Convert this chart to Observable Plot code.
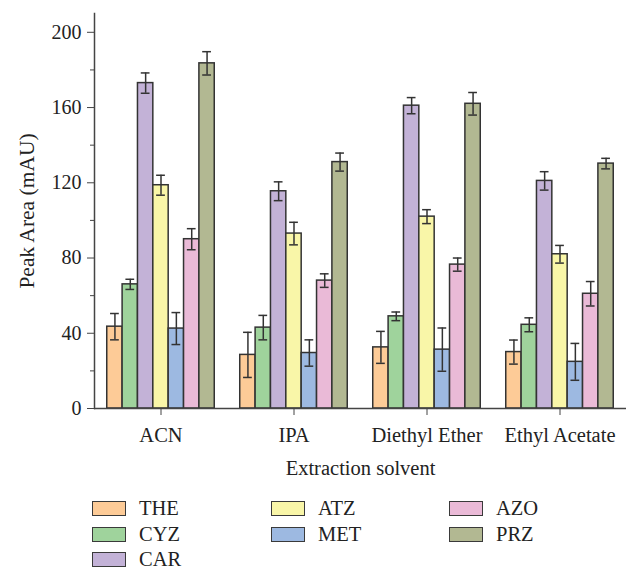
<!DOCTYPE html>
<html><head><meta charset="utf-8">
<script src="https://cdn.jsdelivr.net/npm/d3@7"></script>
<script src="https://cdn.jsdelivr.net/npm/@observablehq/plot@0.6"></script>
<style>
body{margin:0;background:#fff;font-family:"Liberation Serif",serif;}
#legend{position:relative;width:627px;height:81px;}
.sw{position:absolute;width:34px;height:15px;box-sizing:border-box;border:1.5px solid #3a3a3a;}
.lt{position:absolute;font-size:20.5px;line-height:15px;height:15px;color:#222;}
</style></head><body>
<div id="chart"></div><div id="legend"></div>
<script>
const solvents = ["ACN", "IPA", "Diethyl Ether", "Ethyl Acetate"];
const compounds = ["THE", "CYZ", "CAR", "ATZ", "MET", "AZO", "PRZ"];
const colors = ["#FDCB97", "#9FD39C", "#C3B2D7", "#F9F6A8", "#9DB9E1", "#EABAD7", "#B2B892"];
const majorTicks = [0, 40, 80, 120, 160, 200];
const minorTicks = [20, 60, 100, 140, 180];
const yTitle = "Peak Area (mAU)";
const xTitle = "Extraction solvent";

// values per compound, in solvent order
const THE = [43.5, 28.5, 32.5, 30.0];
const CYZ = [66.0, 43.0, 49.0, 44.5];
const CAR = [173.0, 115.5, 161.0, 121.0];
const ATZ = [118.7, 93.0, 102.0, 82.0];
const MET = [42.5, 29.5, 31.3, 24.8];
const AZO = [90.0, 68.0, 76.5, 61.0];
const PRZ = [183.5, 131.0, 162.0, 130.2];
// error (± half-length)
const THE_err = [7.0, 12.0, 8.5, 6.4];
const CYZ_err = [2.7, 6.5, 2.3, 3.7];
const CAR_err = [5.4, 5.0, 4.3, 4.9];
const ATZ_err = [5.3, 6.0, 3.7, 4.7];
const MET_err = [8.5, 7.0, 11.5, 9.8];
const AZO_err = [5.6, 3.6, 3.5, 6.5];
const PRZ_err = [6.2, 4.8, 6.0, 2.8];

const series = [THE, CYZ, CAR, ATZ, MET, AZO, PRZ];
const errs = [THE_err, CYZ_err, CAR_err, ATZ_err, MET_err, AZO_err, PRZ_err];
const data = compounds.flatMap((c, i) => solvents.map((s, j) => ({
  solvent: s, compound: c, value: series[i][j], err: errs[i][j]
})));

const ink = "#333";
const chart = Plot.plot({
  width: 627, height: 490,
  marginLeft: 92, marginRight: 0, marginTop: 13, marginBottom: 82,
  style: {fontFamily: "Liberation Serif, serif", fontSize: "20px", color: "#222", background: "#fff"},
  fx: {domain: solvents, padding: 0},
  x: {domain: compounds, paddingInner: 0, paddingOuter: 0.83, round: false, axis: null},
  y: {domain: [0, 210]},
  color: {domain: compounds, range: colors},
  marks: [
    Plot.axisY({ticks: majorTicks, tickSize: 7, tickPadding: 6, fontSize: 20, stroke: "#444", label: null}),
    Plot.axisY({ticks: minorTicks, tickSize: 4, tickFormat: () => "", label: null, stroke: "#444"}),
    Plot.text([yTitle], {frameAnchor: "left", facetAnchor: "left", rotate: -90, dx: -67,
      textAnchor: "middle", lineAnchor: "middle", fontSize: 21.5, fill: "#222"}),
    Plot.frame({anchor: "left", facetAnchor: "left", stroke: "#444", strokeWidth: 1.5}),
    Plot.barY(data, {fx: "solvent", x: "compound", y: "value", fill: "compound", stroke: ink, strokeWidth: 1.5}),
    Plot.ruleX(data, {fx: "solvent", x: "compound", y1: d => d.value - d.err, y2: d => d.value + d.err, stroke: ink, strokeWidth: 1.5}),
    Plot.tickY(data, {fx: "solvent", x: "compound", y: d => d.value - d.err, stroke: ink, strokeWidth: 1.5, insetLeft: 3.3, insetRight: 3.3}),
    Plot.tickY(data, {fx: "solvent", x: "compound", y: d => d.value + d.err, stroke: ink, strokeWidth: 1.5, insetLeft: 3.3, insetRight: 3.3}),
    Plot.ruleY([0], {stroke: "#444", strokeWidth: 1.5}),
    Plot.axisFx({anchor: "bottom", tickSize: 7, tickPadding: 12, fontSize: 20.5, stroke: "#444",
      label: xTitle, labelAnchor: "center", labelOffset: 66, labelArrow: "none"})
  ]
});
document.getElementById("chart").appendChild(chart);

// legend (column-major, 3 rows)
const legend = document.getElementById("legend");
const colX = [92, 271, 449];
const rowY = [11, 37, 62];
compounds.forEach((c, i) => {
  const col = i < 3 ? 0 : (i < 5 ? 1 : 2);
  const row = i < 3 ? i : (i < 5 ? i - 3 : i - 5);
  const sw = document.createElement("div");
  sw.className = "sw";
  sw.style.left = colX[col] + "px";
  sw.style.top = rowY[row] + "px";
  sw.style.background = colors[i];
  legend.appendChild(sw);
  const t = document.createElement("div");
  t.className = "lt";
  t.textContent = c;
  t.style.left = (colX[col] + 47) + "px";
  t.style.top = rowY[row] + "px";
  legend.appendChild(t);
});
</script>
</body></html>
